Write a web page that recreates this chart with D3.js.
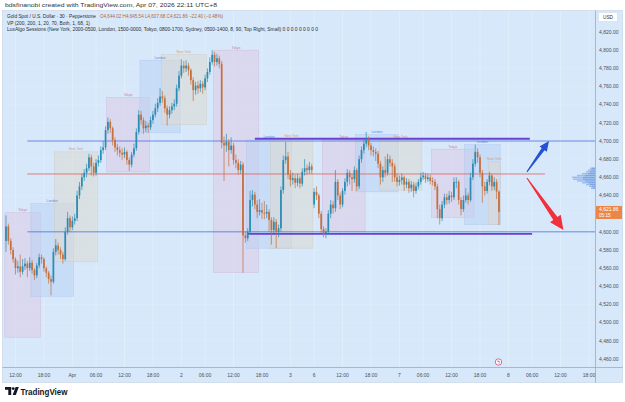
<!DOCTYPE html>
<html><head><meta charset="utf-8">
<script src="https://cdn.jsdelivr.net/npm/d3@7"></script>
<style>html,body{margin:0;padding:0;background:#fff;overflow:hidden}svg{display:block;font-family:"Liberation Sans",Arial,sans-serif}</style>
</head><body><svg id="c" width="625" height="402"></svg>
<script>
// ---------- DATA ----------
const closes = [4606,4590,4580,4570,4560,4562,4556,4562,4565,4560,
 4566,4558,4552,4563,4572,4570,4560,4555,4548,4545,
 4578,4585,4580,4575,4570,4600,4615,4605,4612,4615,
 4640,4650,4660,4665,4670,4682,4672,4665,4676,4679,
 4690,4693,4712,4721,4714,4701,4693,4690,4687,4685,
 4688,4679,4674,4685,4692,4710,4729,4723,4714,4717,
 4715,4723,4729,4736,4742,4749,4747,4736,4729,4734,
 4738,4741,4758,4772,4783,4780,4783,4778,4767,4756,
 4761,4758,4763,4759,4769,4776,4787,4795,4787,4791,
 4785,4698,4695,4699,4690,4695,4679,4676,4668,4674,
 4596,4593,4600,4635,4641,4630,4622,4624,4621,4620,
 4622,4613,4602,4611,4600,4604,4646,4679,4683,4663,
 4657,4659,4654,4659,4653,4666,4670,4668,4672,4668,
 4644,4640,4620,4603,4598,4600,4620,4630,4626,4655,
 4640,4630,4645,4655,4665,4660,4658,4668,4650,4680,
 4690,4697,4702,4695,4690,4688,4686,4675,4660,4668,
 4665,4680,4676,4672,4660,4655,4657,4660,4652,4655,
 4648,4652,4645,4650,4655,4660,4662,4658,4660,4656,
 4655,4650,4625,4615,4630,4638,4635,4640,4638,4655,
 4655,4635,4625,4635,4640,4635,4660,4675,4688,4682,
 4665,4650,4645,4655,4662,4650,4655,4644.26,4621.86];
const highs = [4618,4609,4593,4583,4572,4568,4575,4570,4571,4568,
 4572,4569,4560,4566,4576,4575,4572,4562,4557,4552,
 4582,4592,4588,4583,4578,4605,4622,4618,4617,4620,
 4645,4655,4664,4669,4675,4686,4685,4676,4680,4684,
 4694,4700,4716,4726,4724,4716,4704,4697,4694,4692,
 4693,4690,4682,4688,4697,4714,4734,4733,4726,4722,
 4720,4727,4733,4741,4747,4758,4755,4750,4739,4738,
 4742,4746,4762,4777,4790,4788,4789,4786,4780,4770,
 4765,4766,4767,4766,4773,4780,4792,4800,4798,4796,
 4794,4788,4705,4708,4702,4704,4698,4685,4680,4678,
 4677,4600,4604,4645,4646,4644,4635,4636,4632,4634,
 4630,4625,4616,4616,4614,4608,4650,4684,4699,4688,
 4668,4665,4663,4664,4662,4670,4680,4674,4677,4675,
 4648,4650,4642,4623,4606,4604,4624,4635,4634,4668,
 4658,4643,4648,4659,4669,4668,4664,4672,4670,4684,
 4694,4702,4710,4705,4698,4694,4692,4689,4678,4672,
 4683,4686,4684,4680,4675,4664,4662,4664,4662,4659,
 4658,4656,4655,4654,4658,4665,4666,4665,4664,4663,
 4660,4658,4653,4630,4634,4642,4642,4645,4644,4660,
 4660,4657,4638,4640,4648,4643,4665,4680,4696,4692,
 4685,4668,4655,4658,4666,4664,4660,4658,4645.54];
const lows = [4578,4586,4575,4566,4553,4555,4550,4553,4558,4550,
 4557,4554,4547,4549,4560,4565,4556,4550,4543,4530,
 4543,4574,4575,4570,4565,4568,4597,4600,4602,4608,
 4612,4636,4646,4656,4660,4667,4662,4661,4662,4672,
 4676,4686,4690,4708,4709,4695,4688,4684,4682,4679,
 4681,4674,4667,4671,4682,4689,4707,4718,4708,4710,
 4709,4712,4719,4726,4732,4739,4742,4731,4717,4725,
 4730,4734,4738,4755,4769,4775,4776,4772,4762,4744,
 4751,4752,4754,4752,4756,4765,4773,4784,4782,4783,
 4780,4692,4656,4688,4672,4686,4674,4670,4663,4664,
 4555,4588,4590,4598,4628,4625,4615,4618,4614,4614,
 4615,4600,4586,4598,4582,4594,4600,4642,4675,4658,
 4650,4652,4648,4650,4648,4650,4662,4663,4664,4664,
 4626,4635,4615,4598,4594,4593,4597,4615,4620,4622,
 4635,4625,4627,4641,4650,4652,4645,4654,4645,4647,
 4676,4686,4693,4690,4684,4683,4678,4670,4652,4655,
 4660,4662,4672,4655,4655,4650,4651,4652,4645,4648,
 4643,4644,4638,4642,4647,4652,4657,4654,4655,4652,
 4651,4646,4615,4608,4612,4626,4630,4631,4633,4635,
 4648,4630,4618,4622,4632,4630,4633,4657,4672,4676,
 4660,4632,4640,4642,4651,4645,4646,4636,4607.68];
const firstOpen = 4590;
const gapOpenIndex = [130];
const gapOpenPrice = [4630];

const tickIndex = [4,16,28,38,50,62,74,84,96,108,120,130,142,154,166,176,188,200,212,222,234,246];
const tickLabels = ["12:00","18:00","Apr","06:00","12:00","18:00","2","06:00","12:00","18:00","3","6","12:00","18:00","7","06:00","12:00","18:00","8","06:00","12:00","18:00"];
const priceTicks = d3.range(4460, 4821, 20);

const sessionNames = ["Tokyo","London","New York","Tokyo","London","New York","Tokyo","London","New York","Tokyo","London","New York","Tokyo","London","New York"];
const sessionStart = [0,11,21,43,57,66,88,102,112,134,148,158,180,194,204];
const sessionEnd   = [14,28,38,60,73,84,106,120,129,151,165,175,197,208,208];
const sessionHigh  = [4621,4631,4688,4748,4789,4795,4800,4701,4703,4701,4707,4701,4691,4696,4677];
const sessionLow   = [4484,4529,4567,4666,4709,4718,4555,4582,4582,4600,4644,4646,4616,4608,4608];

const levelPrice = [4700, 4663.7, 4600];
const levelFrom  = [9, 9, 9];
const levelTo    = [null, 227.4, null];
const channelPrice = [4702.5, 4597.8];
const channelFrom  = [105, 101.7];
const channelTo    = [221, 222];

const vpLevels = [4670,4668,4666,4664,4662,4660,4658,4656,4654,4652,4650,4648];
const vpUp     = [3,4,5,7,10,12,12,10,7,5,3,2];
const vpDown   = [2,3,4,6,8,11,10,8,6,4,3,2];

const arrowUp   = [[219.8,4666],[229.1,4700]];
const arrowDown = [[219.8,4659.3],[235.2,4602]];

const lastPrice = 4621.86;
const lastPriceText = "4,621.86";
const countdown = "05:15";

// ---------- DRAW ----------
const svg = d3.select("#c");
const C = {bg:"#d6e8fa", up:"#2a8cb3", down:"#c56f3c"};
const PL = 3, PR = 595, PT = 11, PB = 367;

const x = d3.scaleLinear().domain([0, 246]).range([6, 6 + 246*2.37]);
const y = d3.scaleLinear().domain([4460, 4820]).range([359, 32]);
const step = x(1) - x(0);

svg.append("rect").attr("width",625).attr("height",402).attr("fill","#fff");
svg.append("rect").attr("x",2.5).attr("y",10.5).attr("width",620).attr("height",372)
  .attr("fill",C.bg).attr("stroke","#c3d3e3").attr("stroke-width",0.6);

svg.append("defs").append("clipPath").attr("id","plot")
  .append("rect").attr("x",PL).attr("y",PT).attr("width",PR-PL).attr("height",PB-PT);
const plot = svg.append("g").attr("clip-path","url(#plot)");

// grid
plot.append("g").selectAll("line").data(tickIndex).join("line")
  .attr("x1",d=>x(d)).attr("x2",d=>x(d)).attr("y1",PT).attr("y2",PB)
  .attr("stroke","rgba(255,255,255,0.45)").attr("stroke-width",0.6);
plot.append("g").selectAll("line").data(priceTicks).join("line")
  .attr("x1",PL).attr("x2",PR).attr("y1",d=>y(d)).attr("y2",d=>y(d))
  .attr("stroke","rgba(255,255,255,0.22)").attr("stroke-width",0.6);

// sessions
const sessFill = {"Tokyo":"#dccbe4","London":"#bcd2f3","New York":"#dcd8d0"};
const sessStroke = {"Tokyo":"#cdb0d8","London":"#a6c2ee","New York":"#cbc5bc"};
const sessText = {"Tokyo":"#d0608f","London":"#4d72d8","New York":"#d98850"};
const sess = sessionNames.map((n,i)=>({n, s:sessionStart[i], e:sessionEnd[i], h:sessionHigh[i], l:sessionLow[i]}));
plot.append("g").selectAll("rect").data(sess).join("rect")
  .attr("x",d=>x(d.s)-step/2).attr("width",d=>x(d.e)-x(d.s)+step)
  .attr("y",d=>y(d.h)).attr("height",d=>y(d.l)-y(d.h))
  .attr("fill",d=>sessFill[d.n]).attr("fill-opacity",0.55)
  .attr("stroke",d=>sessStroke[d.n]).attr("stroke-opacity",0.7).attr("stroke-width",0.5);
plot.append("g").selectAll("text").data(sess).join("text")
  .attr("x",d=>(x(d.s)+x(d.e))/2).attr("y",d=>y(d.h)-1.6)
  .attr("text-anchor","middle").attr("font-size",3.4)
  .attr("fill",d=>sessText[d.n]).attr("fill-opacity",0.85).text(d=>d.n);

// horizontal levels
const lvlColor = ["#4a6fdc","#e0605a","#4a6fdc"];
levelPrice.forEach((p,i)=>{
  plot.append("line").attr("x1",x(levelFrom[i])).attr("x2",levelTo[i]==null?PR:x(levelTo[i]))
    .attr("y1",y(p)).attr("y2",y(p)).attr("stroke",lvlColor[i]).attr("stroke-width",0.8);
});
channelPrice.forEach((p,i)=>{
  plot.append("line").attr("x1",x(channelFrom[i])).attr("x2",x(channelTo[i]))
    .attr("y1",y(p)).attr("y2",y(p)).attr("stroke","#6a3fd2").attr("stroke-width",1.8);
});

// candles
const candles = closes.map((c,i)=>{
  const gi = gapOpenIndex.indexOf(i);
  const o = i===0 ? firstOpen : (gi>=0 ? gapOpenPrice[gi] : closes[i-1]);
  return {i, o, h:highs[i], l:lows[i], c};
});
const cg = plot.append("g");
cg.selectAll("line").data(candles).join("line")
  .attr("x1",d=>x(d.i)).attr("x2",d=>x(d.i)).attr("y1",d=>y(d.h)).attr("y2",d=>y(d.l))
  .attr("stroke",d=>d.c>=d.o?C.up:C.down).attr("stroke-width",0.7);
cg.selectAll("rect").data(candles).join("rect")
  .attr("x",d=>x(d.i)-0.85).attr("width",1.7)
  .attr("y",d=>y(Math.max(d.o,d.c)))
  .attr("height",d=>Math.max(0.7, Math.abs(y(d.o)-y(d.c))))
  .attr("fill",d=>d.c>=d.o?C.up:C.down);

// volume profile
const vg = plot.append("g");
vpLevels.forEach((p,i)=>{
  const yy = y(p) - 0.75;
  vg.append("rect").attr("x",PR - vpUp[i]).attr("width",vpUp[i]).attr("y",yy).attr("height",1.5)
    .attr("fill","#5f8fdc").attr("fill-opacity",0.75);
  vg.append("rect").attr("x",PR - vpUp[i] - vpDown[i]).attr("width",vpDown[i]).attr("y",yy).attr("height",1.5)
    .attr("fill","#8fb3ea").attr("fill-opacity",0.8);
});

// arrows
function arrow(pts, color, head, hw, tail, neck){
  const [x1,y1] = [x(pts[0][0]), y(pts[0][1])];
  const [x2,y2] = [x(pts[1][0]), y(pts[1][1])];
  const dx = x2-x1, dy = y2-y1, L = Math.hypot(dx,dy);
  const ux = dx/L, uy = dy/L, nx = -uy, ny = ux;
  const bx = x2 - ux*head, by = y2 - uy*head;
  const P = [
    [x1+nx*tail/2, y1+ny*tail/2],
    [bx+nx*neck/2, by+ny*neck/2],
    [bx+nx*hw/2, by+ny*hw/2],
    [x2, y2],
    [bx-nx*hw/2, by-ny*hw/2],
    [bx-nx*neck/2, by-ny*neck/2],
    [x1-nx*tail/2, y1-ny*tail/2]
  ];
  plot.append("path").attr("d","M"+P.map(p=>p.join(",")).join("L")+"Z").attr("fill",color);
}
arrow(arrowUp, "#2352d6", 10, 9, 1, 3.5);
arrow(arrowDown, "#f0303c", 14, 13, 1, 5);

// axes separators
svg.append("line").attr("x1",595.5).attr("x2",595.5).attr("y1",10.5).attr("y2",382.5)
  .attr("stroke","#8ea4bd").attr("stroke-width",0.7);
svg.append("line").attr("x1",2.5).attr("x2",622.5).attr("y1",367.5).attr("y2",367.5)
  .attr("stroke","#8ea4bd").attr("stroke-width",0.7);

// price axis labels (hidden under the last-price label)
const fmt = d3.format(",.2f");
const ly = y(lastPrice);
svg.append("g").selectAll("text").data(priceTicks.filter(d=>Math.abs(y(d)-ly)>9)).join("text")
  .attr("x",599).attr("y",d=>y(d)+1.7).attr("font-size",5).attr("fill","#4a4f5a")
  .text(d=>fmt(d));
// time axis labels
svg.append("g").selectAll("text").data(tickIndex).join("text")
  .attr("x",d=>x(d)).attr("y",376.5).attr("text-anchor","middle").attr("font-size",5)
  .attr("fill","#4a4f5a").text((d,i)=>tickLabels[i]);

// last price label
svg.append("rect").attr("x",596).attr("y",ly-6).attr("width",26).attr("height",13).attr("fill","#ec8646");
svg.append("text").attr("x",599).attr("y",ly-0.8).attr("font-size",5).attr("fill","#fff").text(lastPriceText);
svg.append("text").attr("x",599).attr("y",ly+5).attr("font-size",4.6).attr("fill","#fff").text(countdown);

// USD box
svg.append("rect").attr("x",598.5).attr("y",12.5).attr("width",19).attr("height",9).attr("rx",1)
  .attr("fill","#fff").attr("stroke","#c8d3de").attr("stroke-width",0.5);
svg.append("text").attr("x",608).attr("y",18.8).attr("text-anchor","middle").attr("font-size",4.8)
  .attr("fill","#333").text("USD");

// event marker
svg.append("circle").attr("cx",498.5).attr("cy",362).attr("r",3.2).attr("fill","#fff")
  .attr("stroke","#c2306f").attr("stroke-width",0.7);
svg.append("text").attr("x",498.5).attr("y",364).attr("text-anchor","middle").attr("font-size",5)
  .attr("fill","#c2306f").text("ϟ");

// header and legend
function txt(s, x0, y0, len, size, color, weight){
  const t = svg.append("text").attr("x",x0).attr("y",y0).attr("font-size",size).attr("fill",color).text(s);
  if(len) t.attr("textLength",len).attr("lengthAdjust","spacingAndGlyphs");
  if(weight) t.attr("font-weight",weight);
  return t;
}
txt("bdsfinanobi created with TradingView.com, Apr 07, 2026 22:11 UTC+8", 5, 7.3, 212, 5.6, "#333");
txt("Gold Spot / U.S. Dollar · 30 · Pepperstone", 7, 17.6, 89, 5.3, "#2b2f38");
txt("O4,644.02  H4,645.54  L4,607.68  C4,621.86  −22.40 (−0.48%)", 100, 17.6, 123, 5.3, "#b3643a");
txt("VP (200, 200, 1, 20, 70, Both, 1, 68, 1)", 7, 24.6, 83, 5.1, "#2b2f38");
txt("LuxAlgo  Sessions (New York, 2000-0500, London, 1500-0000, Tokyo, 0800-1700, Sydney, 0500-1400, 8, 90, Top Right, Small)  0  0  0  0  0  0  0  0  0", 7, 31.4, 311, 5.1, "#2b2f38");

// TradingView logo
const lg = svg.append("g").attr("fill","#131722");
lg.append("path").attr("d","M5,387 H11.2 V395 H8.3 V389.8 H5 Z");
lg.append("circle").attr("cx",13.2).attr("cy",388.6).attr("r",1.45);
lg.append("path").attr("d","M15.6,387 H18.8 L15.8,395 H12.6 Z");
txt("TradingView", 20.5, 394.6, 47, 9.2, "#131722", 700);
</script></body></html>
